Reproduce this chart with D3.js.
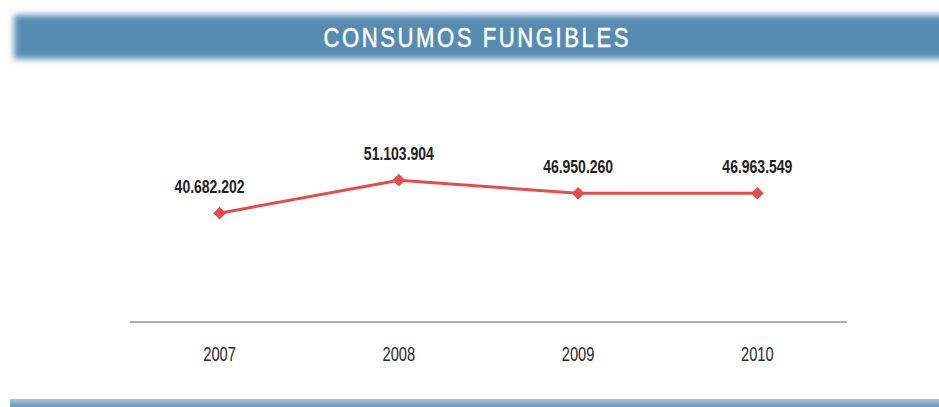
<!DOCTYPE html>
<html>
<head>
<meta charset="utf-8">
<script src="https://cdn.jsdelivr.net/npm/d3@7"></script>
<style>
	body { margin: 0; background: #fff; }
	svg { display: block; }
</style>
</head>
<body>
<svg id="chart"></svg>
<script>
var years = ['2007', '2008', '2009', '2010'];
var values = [40682202, 51103904, 46950260, 46963549];
var labels = ['40.682.202', '51.103.904', '46.950.260', '46.963.549'];
var title = 'CONSUMOS FUNGIBLES';

var width = 939, height = 407;
var font = "'Liberation Sans', Arial, sans-serif";

var svg = d3.select('#chart')
	.attr('width', width)
	.attr('height', height);

var defs = svg.append('defs');
defs.append('filter')
	.attr('id', 'soft')
	.attr('x', '-5%').attr('y', '-40%')
	.attr('width', '110%').attr('height', '180%')
	.append('feGaussianBlur')
	.attr('stdDeviation', 3);

var grad = defs.append('linearGradient')
	.attr('id', 'foot')
	.attr('x1', 0).attr('y1', 0).attr('x2', 0).attr('y2', 1);
grad.append('stop').attr('offset', '0%').attr('stop-color', '#a9c4d8');
grad.append('stop').attr('offset', '100%').attr('stop-color', '#5a8db3');

// header band
svg.append('rect')
	.attr('x', 14)
	.attr('y', 15)
	.attr('width', 960)
	.attr('height', 44)
	.attr('fill', '#578cb2')
	.attr('filter', 'url(#soft)');

// narrow text: squeeze horizontally
var sT = 0.82;
svg.append('g')
	.attr('transform', 'scale(' + sT + ',1)')
	.append('text')
	.attr('x', 476 / sT)
	.attr('y', 47)
	.attr('text-anchor', 'middle')
	.attr('textLength', 305 / sT)
	.attr('lengthAdjust', 'spacing')
	.style('font-family', font)
	.style('font-size', '27px')
	.style('fill', '#fff')
	.style('stroke', '#fff')
	.style('stroke-width', 0.5)
	.text(title);

// footer band
svg.append('rect')
	.attr('x', 10)
	.attr('y', 399)
	.attr('width', 940)
	.attr('height', 10)
	.attr('fill', 'url(#foot)');

// scales
var x = d3.scaleBand()
	.domain(years)
	.range([130, 847]);

var y = d3.scaleLinear()
	.domain([0, 60000000])
	.range([342, 152]);

var cx = function(d, i) { return x(years[i]) + x.bandwidth() / 2; };

// axis baseline
svg.append('line')
	.attr('x1', 130)
	.attr('x2', 847)
	.attr('y1', 322)
	.attr('y2', 322)
	.attr('stroke', '#959595')
	.attr('stroke-width', 1.5);

var sY = 0.7;
svg.append('g')
	.attr('transform', 'scale(' + sY + ',1)')
	.selectAll('text')
	.data(years)
	.enter().append('text')
	.attr('x', function(d) { return (x(d) + x.bandwidth() / 2) / sY; })
	.attr('y', 361)
	.attr('text-anchor', 'middle')
	.style('font-family', font)
	.style('font-size', '21px')
	.style('fill', '#2a2a2a')
	.text(function(d) { return d; });

// line
var line = d3.line()
	.x(cx)
	.y(function(d) { return y(d); });

svg.append('path')
	.datum(values)
	.attr('d', line)
	.attr('fill', 'none')
	.attr('stroke', '#e94b4b')
	.attr('stroke-width', 3);

svg.append('g')
	.selectAll('path')
	.data(values)
	.enter().append('path')
	.attr('d', d3.symbol(d3.symbolSquare, 80))
	.attr('transform', function(d, i) { return 'translate(' + cx(d, i) + ',' + y(d) + ') rotate(45)'; })
	.attr('fill', '#e94b4b');

// value labels
var sV = 0.8;
svg.append('g')
	.attr('transform', 'scale(' + sV + ',1)')
	.selectAll('text')
	.data(values)
	.enter().append('text')
	.attr('x', function(d, i) { return (cx(d, i) - (i == 0 ? 10 : 0)) / sV; })
	.attr('y', function(d) { return y(d) - 20; })
	.attr('text-anchor', 'middle')
	.style('font-family', font)
	.style('font-size', '17.5px')
	.style('font-weight', 'bold')
	.style('fill', '#222')
	.text(function(d, i) { return labels[i]; });
</script>
</body>
</html>
